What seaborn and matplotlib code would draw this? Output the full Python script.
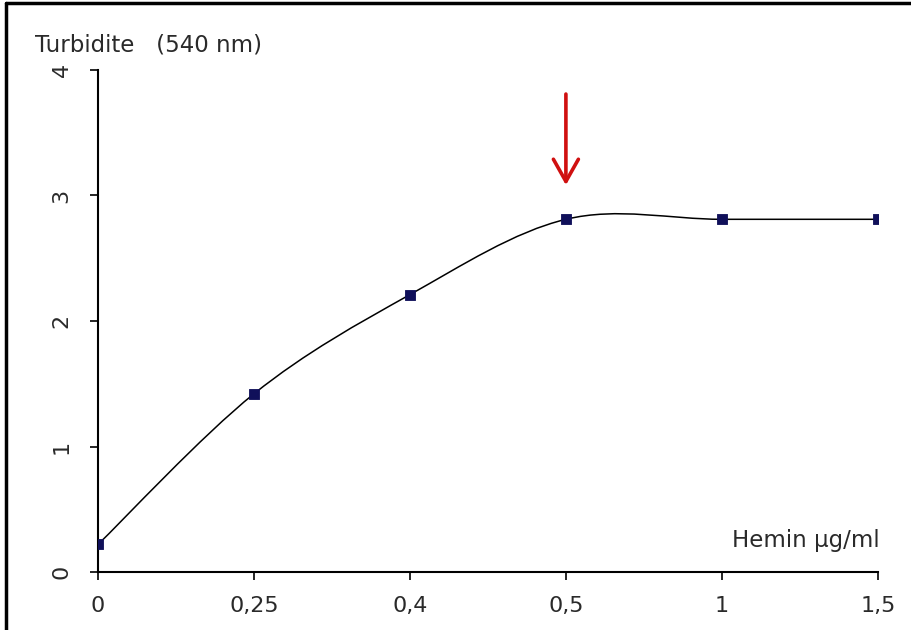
import numpy as np
import matplotlib
matplotlib.use("Agg")
import matplotlib.pyplot as plt
from matplotlib.path import Path
from matplotlib.patches import PathPatch
import seaborn as sns

# dati
hemin_labels = ["0", "0,25", "0,4", "0,5", "1", "1,5"]
turbidite = [0.22, 1.42, 2.21, 2.81, 2.81, 2.81]
y_ticks = [0, 1, 2, 3, 4]

sns.set_style("white")
plt.rcParams["font.family"] = ["DejaVu Sans"]

fig = plt.figure(figsize=(9.12, 6.3), dpi=100)
ax = fig.add_axes([0.1075, 0.092, 0.855, 0.797])

pos = np.arange(len(hemin_labels))

# linea smussata (stile Excel: Catmull-Rom come curve di Bezier)
pts = np.column_stack([pos, turbidite]).astype(float)
verts = [pts[0]]
codes = [Path.MOVETO]
for i in range(len(pts) - 1):
    p0 = pts[i - 1] if i > 0 else pts[i]
    p1 = pts[i]
    p2 = pts[i + 1]
    p3 = pts[i + 2] if i + 2 < len(pts) else pts[i + 1]
    c1 = p1 + (p2 - p0) / 6
    c2 = p2 - (p3 - p1) / 6
    verts += [c1, c2, p2]
    codes += [Path.CURVE4] * 3
ax.add_patch(PathPatch(Path(verts, codes), fill=False, edgecolor="black", lw=1.1, zorder=2))

sns.scatterplot(x=pos, y=turbidite, marker="s", s=60, color="#10105a",
                edgecolor="#10105a", ax=ax, zorder=3)

ax.set_xlim(0, len(hemin_labels) - 1)
ax.set_ylim(0, 4)
ax.set_xticks(pos)
ax.set_xticklabels(hemin_labels, fontsize=16, color="#2a2a2a")
ax.set_yticks(y_ticks)
ax.set_yticklabels([str(v) for v in y_ticks], fontsize=16, rotation=90,
                   va="center", color="#2a2a2a")
ax.tick_params(axis="both", direction="out", length=6, width=1.2, color="black",
               bottom=True, left=True, pad=11)
ax.tick_params(axis="y", pad=13)
for s in ["top", "right"]:
    ax.spines[s].set_visible(False)
for s in ["left", "bottom"]:
    ax.spines[s].set_color("black")
    ax.spines[s].set_linewidth(1.5)
ax.set_clip_on(False)

# freccia rossa
ax.annotate("", xy=(3, 3.06), xytext=(3, 3.83),
            arrowprops=dict(arrowstyle="->,head_length=1.6,head_width=0.9",
                            color="#d01010", lw=2.6))

fig.text(35 / 912, 1 - 45 / 630, "Turbidite   (540 nm)", fontsize=16.5,
         color="#2a2a2a", va="center", ha="left")
fig.text(880 / 912, 1 - 540 / 630, "Hemin µg/ml", fontsize=16.5,
         color="#2a2a2a", va="center", ha="right")

# bordo della figura (sinistra e alto)
fig.add_artist(plt.Line2D([6 / 912, 6 / 912], [0, 1 - 3 / 630], color="black", lw=2.5))
fig.add_artist(plt.Line2D([6 / 912, 1], [1 - 3 / 630, 1 - 3 / 630], color="black", lw=2.5))

fig.savefig("out.png", dpi=100)
